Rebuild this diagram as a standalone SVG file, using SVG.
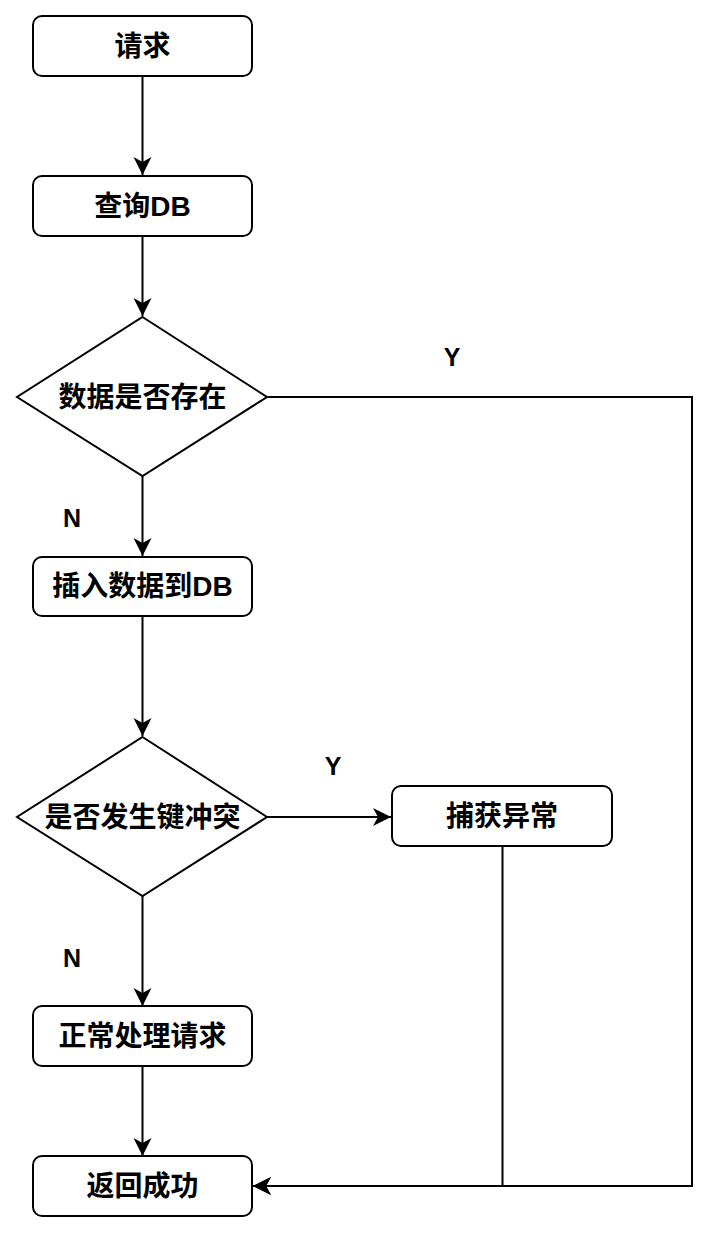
<svg xmlns="http://www.w3.org/2000/svg" width="725" height="1234" viewBox="0 0 725 1234">
<defs>
<style>
.n{fill:#fff;stroke:#000;stroke-width:2}
.t{font-family:"Liberation Sans","Noto Sans CJK SC",sans-serif;font-weight:bold;font-size:28px;fill:#000;text-anchor:middle}
.l{font-family:"Liberation Sans",sans-serif;font-weight:bold;font-size:25px;fill:#000;text-anchor:middle}
.c{fill:none;stroke:#000;stroke-width:2}
</style>
<marker id="a" markerUnits="userSpaceOnUse" markerWidth="20" markerHeight="20" refX="18" refY="9" orient="auto">
<path d="M0,0 L18,9 L0,18 L5,9 Z" fill="#000"/>
</marker>
</defs>
<rect width="725" height="1234" fill="#fff"/>
<g id="connectors">
<path class="c" d="M142.5,76 V175" marker-end="url(#a)"/>
<path class="c" d="M142.5,236 V316" marker-end="url(#a)"/>
<path class="c" d="M142.5,476 V556" marker-end="url(#a)"/>
<path class="c" d="M142.5,616 V736" marker-end="url(#a)"/>
<path class="c" d="M267,817 H391" marker-end="url(#a)"/>
<path class="c" d="M142.5,896 V1006" marker-end="url(#a)"/>
<path class="c" d="M142.5,1066 V1156" marker-end="url(#a)"/>
<path class="c" d="M267,397 H692 V1186 H253" marker-end="url(#a)"/>
<path class="c" d="M502.5,846 V1186 H253" marker-end="url(#a)"/>
<text class="l" x="452" y="366">Y</text>
<text class="l" x="72" y="527">N</text>
<text class="l" x="333" y="775">Y</text>
<text class="l" x="72" y="967">N</text>
</g>
<g id="n1"><rect class="n" x="33" y="16" width="219" height="60" rx="9"/><text class="t" x="142.5" y="56">请求</text></g>
<g id="n2"><rect class="n" x="33" y="176" width="219" height="60" rx="9"/><text class="t" x="142.5" y="216">查询DB</text></g>
<g id="n3"><path class="n" d="M142.5,317 L267,397 L142.5,476 L17,397 Z"/><text class="t" x="142.5" y="407">数据是否存在</text></g>
<g id="n4"><rect class="n" x="33" y="557" width="219" height="59" rx="9"/><text class="t" x="142.5" y="596">插入数据到DB</text></g>
<g id="n5"><path class="n" d="M142.5,737 L267,817 L142.5,896 L17,817 Z"/><text class="t" x="142.5" y="827">是否发生键冲突</text></g>
<g id="n6"><rect class="n" x="392" y="786" width="220" height="60" rx="9"/><text class="t" x="502" y="826">捕获异常</text></g>
<g id="n7"><rect class="n" x="33" y="1006" width="219" height="60" rx="9"/><text class="t" x="142.5" y="1046">正常处理请求</text></g>
<g id="n8"><rect class="n" x="33" y="1156" width="219" height="60" rx="9"/><text class="t" x="142.5" y="1196">返回成功</text></g>
</svg>
